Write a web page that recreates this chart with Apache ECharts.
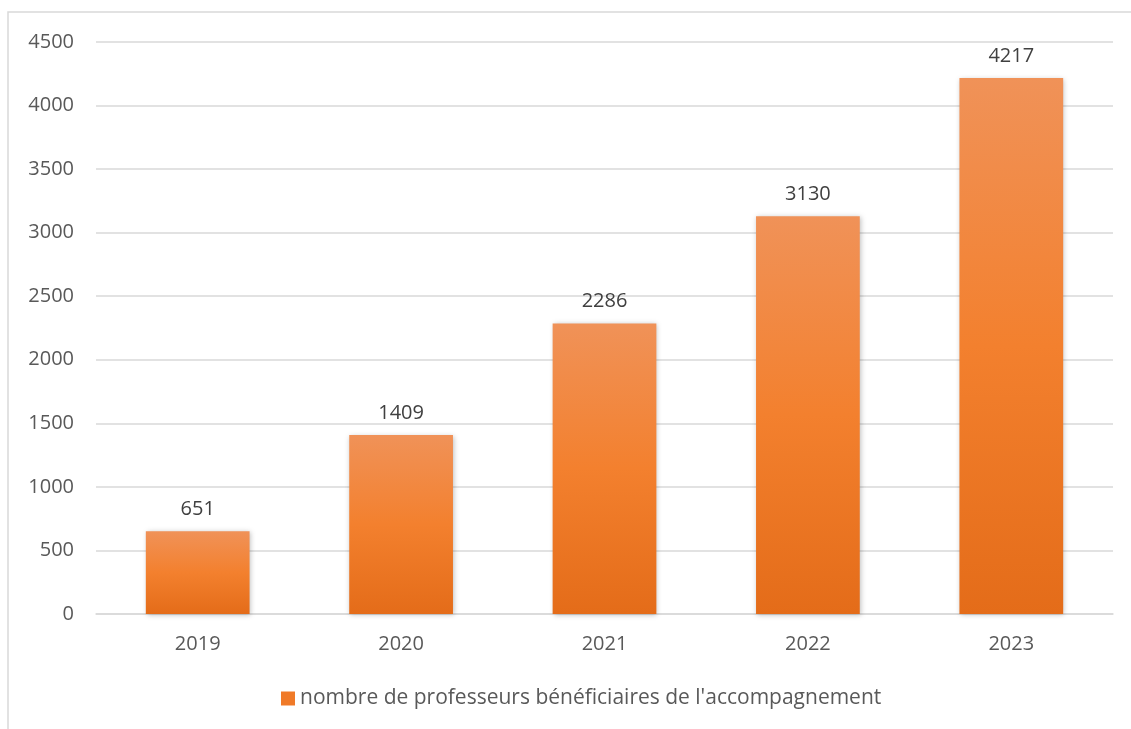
<!DOCTYPE html>
<html>
<head>
<meta charset="utf-8">
<script src="https://cdn.jsdelivr.net/npm/echarts@6/dist/echarts.min.js"></script>
<style>
  html, body { margin: 0; padding: 0; background: #fff; }
  #chart { width: 1131px; height: 729px; }
</style>
</head>
<body>
<div id="chart"></div>
<script>
const years = ['2019', '2020', '2021', '2022', '2023'];
const professeurs = [651, 1409, 2286, 3130, 4217];
const seriesName = "nombre de professeurs bénéficiaires de l'accompagnement";

const chart = echarts.init(document.getElementById('chart'));

// Excel-like orange gradient
const barColor = new echarts.graphic.LinearGradient(0, 0, 0, 1, [
  { offset: 0, color: '#F09258' },
  { offset: 0.5, color: '#F3802E' },
  { offset: 1, color: '#E46C19' }
]);

const option = {
  animation: false,
  textStyle: { fontFamily: 'Open Sans, Liberation Sans, sans-serif' },
  graphic: [{
    type: 'rect',
    shape: { x: 8, y: 12, width: 1140, height: 740 },
    style: { fill: 'none', stroke: '#d9d9d9', lineWidth: 1.5 }
  }],
  grid: { left: 96, right: 18, top: 42, bottom: 115 },
  xAxis: {
    type: 'category',
    data: years,
    axisTick: { show: false },
    axisLine: { lineStyle: { color: '#d9d9d9', width: 1.5 } },
    axisLabel: { color: '#595959', fontSize: 20, margin: 20 }
  },
  yAxis: {
    type: 'value',
    min: 0,
    max: 4500,
    interval: 500,
    axisLine: { show: false },
    axisTick: { show: false },
    axisLabel: { color: '#595959', fontSize: 20, margin: 22, formatter: v => String(v) },
    splitLine: { lineStyle: { color: '#d9d9d9', width: 1.5 } }
  },
  legend: {
    bottom: 15,
    left: 276,
    icon: 'rect',
    itemWidth: 14,
    itemHeight: 14,
    itemGap: 5,
    textStyle: { color: '#595959', fontSize: 21 },
    data: [{ name: seriesName, itemStyle: { color: '#F07A28' } }]
  },
  series: [{
    name: seriesName,
    type: 'bar',
    data: professeurs,
    barWidth: '51%',
    itemStyle: {
      color: barColor,
      shadowColor: 'rgba(0,0,0,0.25)',
      shadowBlur: 5,
      shadowOffsetX: 1,
      shadowOffsetY: 1
    },
    label: {
      show: true,
      position: 'top',
      distance: 12,
      color: '#404040',
      fontSize: 20
    }
  }]
};

chart.setOption(option);
</script>
</body>
</html>
